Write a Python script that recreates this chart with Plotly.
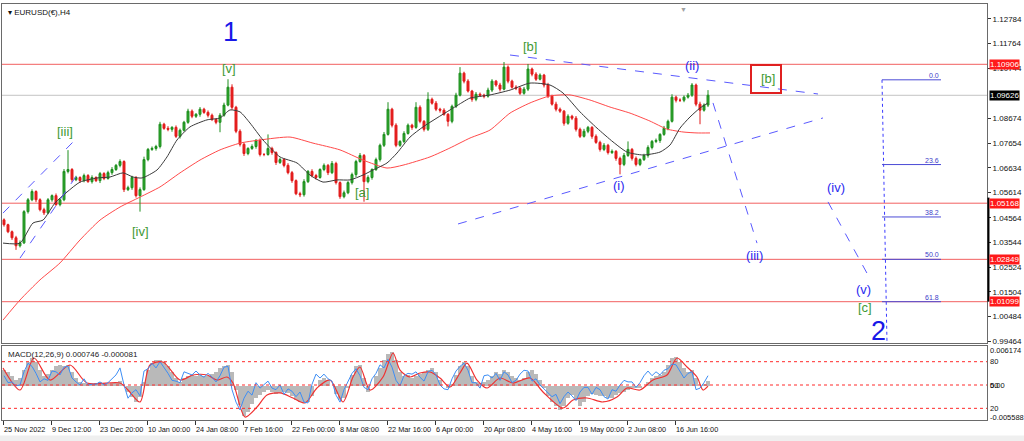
import plotly.graph_objects as go

FONT = "Liberation Sans, Arial, sans-serif"

# ---------------- price data (EURUSD H4, one candle ~ 4 source bars) ----------------
first_open = 1.0448
closes = [
    1.0428, 1.0399, 1.0374, 1.0341, 1.0353, 1.0482, 1.0531, 1.0565, 1.0531, 1.0490,
    1.0477, 1.0531, 1.0548, 1.0511, 1.0531, 1.0648, 1.0656, 1.0614, 1.0623, 1.0610,
    1.0631, 1.0606, 1.0623, 1.0610, 1.0639, 1.0619, 1.0643, 1.0656, 1.0673, 1.0689,
    1.0573, 1.0581, 1.0623, 1.0548, 1.0573, 1.0697, 1.0739, 1.0743, 1.0751, 1.0843,
    1.0826, 1.0822, 1.0830, 1.0793, 1.0818, 1.0851, 1.0897, 1.0876, 1.0884, 1.0905,
    1.0892, 1.0880, 1.0863, 1.0851, 1.0880, 1.0922, 1.0996, 1.0913, 1.0814, 1.0760,
    1.0722, 1.0743, 1.0751, 1.0776, 1.0718, 1.0718, 1.0743, 1.0726, 1.0685, 1.0697,
    1.0673, 1.0643, 1.0610, 1.0556, 1.0552, 1.0606, 1.0648, 1.0631, 1.0623, 1.0656,
    1.0673, 1.0643, 1.0681, 1.0602, 1.0544, 1.0560, 1.0602, 1.0635, 1.0689, 1.0714,
    1.0606, 1.0623, 1.0656, 1.0697, 1.0756, 1.0801, 1.0905, 1.0839, 1.0756, 1.0772,
    1.0805, 1.0839, 1.0830, 1.0913, 1.0855, 1.0822, 1.0946, 1.0930, 1.0905, 1.0901,
    1.0884, 1.0855, 1.0917, 1.0963, 1.1054, 1.1021, 1.0980, 1.0946, 1.0967, 1.0963,
    1.0959, 1.0984, 1.1021, 1.1005, 1.0988, 1.1079, 1.1021, 1.0996, 1.0992, 1.0971,
    1.0988, 1.1071, 1.1050, 1.1029, 1.1046, 1.1005, 1.0959, 1.0926, 1.0905, 1.0897,
    1.0847, 1.0876, 1.0868, 1.0822, 1.0793, 1.0814, 1.0830, 1.0793, 1.0768, 1.0739,
    1.0756, 1.0726, 1.0731, 1.0702, 1.0677, 1.0714, 1.0739, 1.0702, 1.0677, 1.0697,
    1.0714, 1.0747, 1.0772, 1.0776, 1.0801, 1.0826, 1.0855, 1.0955, 1.0942, 1.0942,
    1.0955, 1.0963, 1.1005, 1.0926, 1.0901, 1.0922, 1.0963,
]
# wick lengths above / below the body, in pips (0.0001)
wick_up = [
    6, 4, 5, 8, 10, 6, 7, 9, 5, 6,
    8, 7, 5, 9, 6, 10, 80, 6, 7, 5,
    8, 6, 9, 5, 7, 6, 8, 10, 6, 9,
    5, 8, 7, 6, 9, 12, 6, 8, 7, 10,
    6, 9, 5, 8, 7, 6, 10, 7, 5, 9,
    6, 8, 7, 5, 9, 10, 33, 12, 6, 8,
    7, 5, 9, 6, 8, 6, 58, 7, 5, 8,
    6, 9, 7, 5, 8, 10, 6, 9, 7, 5,
    8, 6, 10, 7, 5, 9, 6, 8, 7, 10,
    6, 9, 5, 8, 7, 10, 29, 6, 8, 5,
    9, 7, 6, 21, 8, 5, 29, 7, 9, 6,
    8, 5, 7, 10, 25, 6, 8, 5, 9, 7,
    6, 10, 8, 5, 9, 21, 7, 6, 8, 5,
    9, 21, 6, 8, 7, 5, 9, 6, 10, 7,
    5, 8, 6, 9, 7, 10, 6, 5, 8, 7,
    9, 6, 8, 5, 7, 10, 33, 6, 8, 5,
    7, 9, 6, 8, 5, 10, 7, 12, 6, 8,
    7, 9, 8, 6, 10, 7, 21,
]
wick_dn = [
    8, 6, 9, 17, 7, 5, 8, 6, 10, 7,
    9, 6, 8, 5, 7, 6, 8, 10, 6, 9,
    7, 5, 8, 6, 10, 7, 5, 9, 6, 8,
    10, 6, 9, 8, 66, 5, 7, 6, 9, 8,
    6, 8, 10, 7, 9, 5, 6, 8, 7, 10,
    6, 9, 7, 8, 41, 6, 5, 10, 8, 9,
    10, 7, 6, 9, 8, 7, 5, 9, 10, 6,
    8, 7, 9, 6, 10, 8, 6, 7, 9, 5,
    7, 10, 6, 8, 9, 7, 6, 8, 10, 5,
    83, 7, 9, 6, 8, 7, 5, 9, 8, 6,
    7, 5, 10, 6, 8, 9, 7, 6, 8, 10,
    6, 21, 8, 7, 5, 9, 6, 10, 8, 7,
    9, 6, 8, 7, 10, 5, 9, 6, 8, 7,
    6, 8, 9, 7, 5, 10, 8, 6, 9, 7,
    10, 6, 8, 9, 7, 5, 8, 10, 6, 9,
    7, 8, 6, 10, 41, 7, 6, 9, 8, 7,
    6, 9, 8, 7, 10, 6, 8, 5, 9, 7,
    8, 6, 7, 9, 58, 6, 8,
]

bar_idx = list(range(len(closes)))
opens = [first_open] + closes[:-1]
highs = [max(o, c) + w * 1e-4 for o, c, w in zip(opens, closes, wick_up)]
lows = [min(o, c) - w * 1e-4 for o, c, w in zip(opens, closes, wick_dn)]

# moving averages
ma_fast_idx = [-0.25, 4, 7.25, 9.75, 12.75, 15.75, 19, 23.25, 26.5, 29.75, 32.25, 34.5, 38.25,
               40.75, 43.25, 46.5, 50.75, 54, 56.5, 59, 61.5, 64.75, 69, 73.25, 76.5, 79.75,
               83.25, 86.5, 89.75, 92.25, 95.75, 98.25, 101.5, 104.75, 108.25, 111.5, 114.75,
               116.5, 121.5, 126.5, 131.5, 136.5, 139.75, 144, 148.25, 152.25, 155.75, 159.75,
               164, 166.5, 169, 171.5, 174, 176]
ma_fast = [1.0352, 1.0352, 1.0435, 1.0447, 1.0518, 1.0563, 1.0604, 1.0621, 1.0625, 1.0642,
           1.0625, 1.0621, 1.0654, 1.0708, 1.0778, 1.0832, 1.0861, 1.0869, 1.0902, 1.0894,
           1.0848, 1.0778, 1.0708, 1.0683, 1.0633, 1.0604, 1.0613, 1.0613, 1.0633, 1.0654,
           1.0683, 1.0724, 1.0790, 1.0832, 1.0869, 1.0902, 1.0935, 1.0951, 1.0964, 1.0984,
           1.1013, 1.1005, 1.0972, 1.0894, 1.0827, 1.0770, 1.0728, 1.0716, 1.0728, 1.0757,
           1.0827, 1.0873, 1.0910, 1.0931]
ma_slow_idx = [-0.25, 4, 9, 14, 19, 24, 29, 34, 39, 44, 49, 54, 59, 64, 71.5, 77.25, 84, 89.75,
               95.75, 99.75, 106.5, 111.5, 116.5, 121.5, 126.5, 131.5, 136.5, 141.5, 146.5,
               151.5, 156.5, 161.5, 165.75, 169.75, 173.25, 176.5]
ma_slow = [1.0034, 1.0117, 1.0200, 1.0270, 1.0365, 1.0447, 1.0501, 1.0542, 1.0584, 1.0642,
           1.0695, 1.0737, 1.0765, 1.0778, 1.0790, 1.0765, 1.0737, 1.0695, 1.0662, 1.0674,
           1.0708, 1.0745, 1.0786, 1.0819, 1.0889, 1.0931, 1.0960, 1.0964, 1.0943, 1.0914,
           1.0889, 1.0856, 1.0823, 1.0811, 1.0807, 1.0807]

# ---------------- MACD panel ----------------
macd_hist = [
    0.00271, 0.00237, 0.00168, 0.00098, 0.00133, 0.00271, 0.00410, 0.00479, 0.00410, 0.00271,
    0.00168, 0.00202, 0.00271, 0.00341, 0.00358, 0.00341, 0.00358, 0.00237, 0.00133, 0.00064,
    0.00046, 0.00029, 0.00029, 0.00046, 0.00064, 0.00046, 0.00029, 0.00046, 0.00064, 0.00081,
    -0.00005, -0.00109, -0.00196, -0.00282, -0.00196, 0.00064, 0.00271, 0.00392, 0.00444, 0.00444,
    0.00410, 0.00341, 0.00237, 0.00133, 0.00064, 0.00133, 0.00168, 0.00185, 0.00168, 0.00185,
    0.00168, 0.00168, 0.00202, 0.00237, 0.00306, 0.00341, 0.00358, 0.00237, -0.00075, -0.00334,
    -0.00524, -0.00455, -0.00317, -0.00213, -0.00161, -0.00109, -0.00075, -0.00109, -0.00144, -0.00126,
    -0.00109, -0.00126, -0.00178, -0.00248, -0.00282, -0.00299, -0.00282, -0.00178, -0.00005, 0.00098,
    0.00133, 0.00098, -0.00005, -0.00144, -0.00248, -0.00213, -0.00040, 0.00185, 0.00341, 0.00358,
    0.00133, -0.00109, -0.00005, 0.00168, 0.00306, 0.00444, 0.00548, 0.00583, 0.00444, 0.00237,
    0.00168, 0.00185, 0.00133, 0.00168, 0.00202, 0.00237, 0.00271, 0.00306, 0.00237, 0.00098,
    -0.00005, -0.00040, 0.00029, 0.00185, 0.00341, 0.00410, 0.00341, 0.00168, 0.00064, 0.00046,
    0.00064, 0.00098, 0.00168, 0.00237, 0.00202, 0.00271, 0.00237, 0.00168, 0.00133, 0.00098,
    0.00133, 0.00237, 0.00271, 0.00202, 0.00098, -0.00040, -0.00178, -0.00282, -0.00351, -0.00420,
    -0.00351, -0.00213, -0.00161, -0.00248, -0.00351, -0.00282, -0.00178, -0.00144, -0.00161, -0.00178,
    -0.00178, -0.00213, -0.00213, -0.00161, -0.00126, -0.00109, -0.00075, -0.00040, -0.00040, -0.00040,
    -0.00005, 0.00064, 0.00133, 0.00168, 0.00185, 0.00237, 0.00358, 0.00479, 0.00496, 0.00410,
    0.00306, 0.00237, 0.00271, 0.00133, -0.00005, 0.00029, 0.00075,
]
signal_idx = [-0.25, 4, 7.5, 11.5, 16.5, 20.75, 29, 31, 34, 36.5, 39.75, 44, 47.25, 50.75, 53.25,
              55.75, 57.25, 60.25, 63.25, 65.75, 69, 72.25, 75.25, 78.25, 81.5, 84.75, 87.25, 89,
              91.5, 94.75, 97.25, 99, 101.5, 104, 106.5, 109, 111.5, 114, 115.75, 118.25, 120.75,
              124, 127.25, 131.5, 134.75, 139.75, 142.25, 145.75, 149.75, 153.25, 155.75, 159,
              162.25, 165.75, 168.25, 170.75, 173.25, 174.75, 176]
signal_vals = [0.00306, -0.00075, 0.00479, 0.00098, 0.00358, 0.00046, 0.00046, -0.00075, -0.00282,
               0.00358, 0.00410, 0.00098, 0.00185, 0.00185, 0.00098, 0.00150, 0.00046, -0.00542,
               -0.00369, -0.00161, -0.00126, -0.00213, -0.00299, -0.00040, 0.00098, -0.00282,
               0.00150, 0.00323, -0.00075, 0.00150, 0.00566, 0.00271, 0.00150, 0.00220, 0.00237,
               0.00133, -0.00023, 0.00220, 0.00392, 0.00098, -0.00040, 0.00133, 0.00046, 0.00133,
               -0.00109, -0.00386, -0.00248, -0.00213, -0.00282, -0.00196, -0.00040, -0.00075,
               0.00098, 0.00185, 0.00479, 0.00323, 0.00150, -0.00075, -0.00008]
osc_vals = [
    62, 53, 54, 49, 50, 67, 78, 74, 65, 54,
    58, 56, 68, 67, 63, 73, 74, 59, 54, 50,
    58, 50, 51, 51, 54, 50, 53, 58, 63, 72,
    50, 33, 40, 44, 36, 68, 71, 78, 72, 80,
    73, 65, 56, 55, 53, 67, 65, 63, 68, 63,
    60, 65, 60, 54, 62, 73, 74, 44, 28, 18,
    33, 42, 37, 53, 46, 50, 55, 46, 44, 50,
    38, 45, 42, 35, 41, 28, 27, 51, 64, 59,
    64, 58, 55, 37, 28, 44, 54, 65, 71, 62,
    47, 44, 58, 65, 76, 72, 83, 73, 56, 49,
    62, 65, 64, 67, 60, 55, 67, 69, 63, 50,
    45, 44, 58, 68, 74, 78, 69, 53, 53, 46,
    62, 63, 59, 65, 56, 67, 63, 53, 56, 64,
    69, 68, 55, 58, 50, 45, 40, 35, 38, 26,
    35, 41, 36, 30, 41, 47, 47, 38, 47, 44,
    35, 32, 44, 42, 50, 56, 54, 54, 47, 53,
    62, 68, 62, 67, 63, 69, 71, 77, 76, 67,
    59, 65, 67, 44, 46, 53, 62,
]
osc_levels = [80, 50, 20]

# ---------------- axes text ----------------
date_labels = ["25 Nov 2022", "9 Dec 12:00", "23 Dec 20:00", "10 Jan 00:00", "24 Jan 08:00",
               "7 Feb 16:00", "22 Feb 00:00", "8 Mar 08:00", "22 Mar 16:00", "6 Apr 00:00",
               "20 Apr 08:00", "4 May 16:00", "19 May 00:00", "2 Jun 08:00", "16 Jun 16:00"]
date_tick_idx = [-0.25, 11.75, 23.75, 35.75, 47.75, 59.75, 71.75, 83.75, 95.75, 107.75,
                 119.75, 131.75, 143.75, 155.75, 167.75]
price_ticks = [1.12784, 1.11764, 1.10744, 1.08674, 1.07654, 1.06634, 1.05614, 1.04564,
               1.03544, 1.02524, 1.01504, 1.00484, 0.99464]

level_prices = [1.10906, 1.05168, 1.02849, 1.01099]
current_price = 1.09626

# Fibonacci retracement
fib_high = 1.10265
fib_low = 0.95434
fib_levels = [0.0, 23.6, 38.2, 50.0, 61.8]

# wave labels: text, bar index, price, kind
wave_labels = [
    ("1", 56.5, 1.1224, "big"),
    ("[v]", 56.25, 1.1075, "green"),
    ("[iii]", 15.25, 1.0815, "green"),
    ("[iv]", 34.0, 1.0398, "green"),
    ("[a]", 89.5, 1.0563, "green"),
    ("[b]", 131.5, 1.1166, "green"),
    ("(i)", 153.75, 1.0588, "blue"),
    ("(ii)", 172.0, 1.1084, "blue"),
    ("[b]", 191.0, 1.1030, "green"),
    ("(iii)", 187.5, 1.0299, "blue"),
    ("(iv)", 208.0, 1.0580, "blue"),
    ("(v)", 214.75, 1.0162, "blue"),
    ("[c]", 215.25, 1.0084, "green"),
    ("2", 218.5, 0.9989, "big"),
]
# dashed trend lines: (idx0, price0, idx1, price1)
trend_lines = [
    (-0.25, 1.0476, 17.75, 1.0778),
    (4.0, 1.0290, 18.25, 1.0633),
    (126.5, 1.1129, 203.5, 1.0968),
    (113.5, 1.0431, 204.75, 1.0869),
    (177.25, 1.0931, 188.25, 1.0352),
    (206.0, 1.0522, 216.0, 1.0220),
]

# ---------------- figure ----------------
X_RANGE = [-0.5, 245.75]
Y_MAIN = [0.99393, 1.13397]
Y_MACD = [-0.00594, 0.00687]
Y_OSC = [5.0, 100.2]

fig = go.Figure()
fig.add_trace(go.Candlestick(
    x=bar_idx, open=opens, high=highs, low=lows, close=closes,
    increasing=dict(line=dict(color="#1f8f1f", width=1), fillcolor="#2ea82e"),
    decreasing=dict(line=dict(color="#e01a1a", width=1), fillcolor="#e82020"),
    whiskerwidth=0, xaxis="x", yaxis="y", hoverinfo="skip"))
fig.add_trace(go.Scatter(x=ma_slow_idx, y=ma_slow, mode="lines", line=dict(color="#ff4a4a", width=1, shape="spline", smoothing=0.6),
                         xaxis="x", yaxis="y", hoverinfo="skip"))
fig.add_trace(go.Scatter(x=ma_fast_idx, y=ma_fast, mode="lines", line=dict(color="#3a3a3a", width=1, shape="spline", smoothing=0.6),
                         xaxis="x", yaxis="y", hoverinfo="skip"))

fig.add_trace(go.Bar(x=bar_idx, y=macd_hist, width=1.0, marker=dict(color="#b9b9b9", line=dict(width=0)),
                     xaxis="x2", yaxis="y2", hoverinfo="skip"))
fig.add_trace(go.Scatter(x=bar_idx, y=osc_vals, mode="lines", line=dict(color="#3d8ef5", width=1),
                         xaxis="x2", yaxis="y3", hoverinfo="skip"))
fig.add_trace(go.Scatter(x=signal_idx, y=signal_vals, mode="lines", line=dict(color="#f03030", width=1.2, shape="spline", smoothing=0.8),
                         xaxis="x2", yaxis="y2", hoverinfo="skip"))

shapes = []
for p in level_prices:
    shapes.append(dict(type="line", xref="paper", yref="y", x0=0, x1=1, y0=p, y1=p,
                       line=dict(color="#f26060", width=1), layer="below"))
shapes.append(dict(type="line", xref="paper", yref="y", x0=0, x1=1, y0=current_price, y1=current_price,
                   line=dict(color="#c4c4c4", width=1), layer="below"))
for (a0, p0, a1, p1) in trend_lines:
    shapes.append(dict(type="line", xref="x", yref="y", x0=a0, y0=p0, x1=a1, y1=p1,
                       line=dict(color="#5a5aff", width=1, dash="dash")))
# fib tool
shapes.append(dict(type="line", xref="x", yref="y", x0=219.5, y0=fib_high, x1=220.75, y1=Y_MAIN[0],
                   line=dict(color="#3a3aff", width=1, dash="dot")))
for lv in fib_levels:
    p = fib_high - lv / 100.0 * (fib_high - fib_low)
    shapes.append(dict(type="line", xref="x", yref="y", x0=219.5, x1=234.25, y0=p, y1=p,
                       line=dict(color="#4b4bd6", width=1)))
# red box around [b]
shapes.append(dict(type="rect", xref="x", yref="y", x0=186.75, x1=194.25, y0=1.0972, y1=1.1088,
                   line=dict(color="#e02020", width=2)))
# black marker on price scale
shapes.append(dict(type="line", xref="paper", yref="y", x0=1.0015, x1=1.0015, y0=1.0110, y1=1.0540,
                   line=dict(color="#000000", width=2)))
# MACD panel levels
for lv in osc_levels:
    shapes.append(dict(type="line", xref="paper", yref="y3", x0=0, x1=1, y0=lv, y1=lv,
                       line=dict(color="#ff2a2a", width=1, dash="dot")))
# bottom grey window strip
shapes.append(dict(type="rect", xref="paper", yref="paper", x0=-0.01, x1=1.1, y0=-0.052, y1=-0.037,
                   line=dict(width=0), fillcolor="#efefef"))

ann = []
green = "#3f9a34"
blue = "#2a2af0"
for text, xi, p, kind in wave_labels:
    if kind == "big":
        ann.append(dict(x=xi, y=p, xref="x", yref="y", text=text, showarrow=False,
                        font=dict(family=FONT, size=27, color="#1818e8")))
    else:
        ann.append(dict(x=xi, y=p, xref="x", yref="y", text=text, showarrow=False,
                        font=dict(family=FONT, size=13, color=green if kind == "green" else blue)))
for lv in fib_levels:
    p = fib_high - lv / 100.0 * (fib_high - fib_low)
    ann.append(dict(x=234.25, y=p, xref="x", yref="y", text=f"{lv:.1f}", showarrow=False,
                    xanchor="right", yanchor="bottom", yshift=-1,
                    font=dict(family=FONT, size=7, color="#4040c8")))
# coloured price labels
for p in level_prices:
    ann.append(dict(x=1, y=p, xref="paper", yref="y", text=f"{p:.5f}", showarrow=False,
                    xanchor="left", xshift=2, bgcolor="#ff1a1a", borderpad=0,
                    font=dict(family=FONT, size=8, color="white")))
ann.append(dict(x=1, y=current_price, xref="paper", yref="y", text=f"{current_price:.5f}", showarrow=False,
                xanchor="left", xshift=2, bgcolor="#000000", borderpad=0,
                font=dict(family=FONT, size=8, color="white")))
# MACD scale labels
for txt, val, ref in [("0.006174", 0.006174, "y2"), ("0.00", 0.0, "y2"), ("-0.005588", -0.005588, "y2"),
                      ("80", 80, "y3"), ("50", 50, "y3"), ("20", 20, "y3")]:
    ann.append(dict(x=1, y=val, xref="paper", yref=ref, text=txt, showarrow=False,
                    xanchor="left", xshift=1, font=dict(family=FONT, size=7.5, color="#111111")))
# date labels
for xi, txt in zip(date_tick_idx, date_labels):
    ann.append(dict(x=xi, y=-0.022, xref="x2", yref="paper", text=txt, showarrow=False,
                    xanchor="left", yanchor="middle", xshift=-1,
                    font=dict(family=FONT, size=7.3, color="#111111")))
ann.append(dict(x=0.004, y=0.995, xref="paper", yref="paper", text="▾ EURUSD(€),H4", showarrow=False,
                xanchor="left", yanchor="top", font=dict(family=FONT, size=8, color="#111111")))
ann.append(dict(x=0.004, y=0.172, xref="paper", yref="paper", text="MACD(12,26,9) 0.000746 -0.000081",
                showarrow=False, xanchor="left", yanchor="top",
                font=dict(family=FONT, size=8, color="#222222")))
ann.append(dict(x=169.75, y=1.0, xref="x", yref="paper", text="▼", showarrow=False, yanchor="top",
                font=dict(family=FONT, size=7, color="#a0a0a0")))

frame = dict(showline=True, linecolor="#6a6a6a", linewidth=1, mirror=True, showgrid=False, zeroline=False)
fig.update_layout(
    width=1024, height=441, autosize=False,
    margin=dict(l=2, r=37, t=4, b=21),
    paper_bgcolor="white", plot_bgcolor="white",
    showlegend=False, bargap=0,
    font=dict(family=FONT, size=8, color="#111111"),
    xaxis=dict(domain=[0, 1], range=X_RANGE, anchor="y", showticklabels=False, ticks="",
               rangeslider=dict(visible=False), **frame),
    yaxis=dict(domain=[0.1851, 1], range=Y_MAIN, side="right", anchor="x",
               tickvals=price_ticks, ticktext=[f"{t:.5f}" for t in price_ticks],
               ticks="outside", ticklen=3, tickcolor="#333333",
               tickfont=dict(family=FONT, size=8, color="#111111"), **frame),
    xaxis2=dict(domain=[0, 1], range=X_RANGE, anchor="y2", matches="x", showticklabels=False,
                tickvals=date_tick_idx, ticks="outside", ticklen=4, tickcolor="#333333", **frame),
    yaxis2=dict(domain=[0, 0.1779], range=Y_MACD, anchor="x2", showticklabels=False, ticks="", **frame),
    yaxis3=dict(range=Y_OSC, overlaying="y2", anchor="x2", visible=False),
    shapes=shapes, annotations=ann,
)

fig.write_html("out.html", include_plotlyjs=True, full_html=True,
               config={"displayModeBar": False, "staticPlot": True},
               post_script="document.body.style.margin='0';document.body.style.overflow='hidden';")
